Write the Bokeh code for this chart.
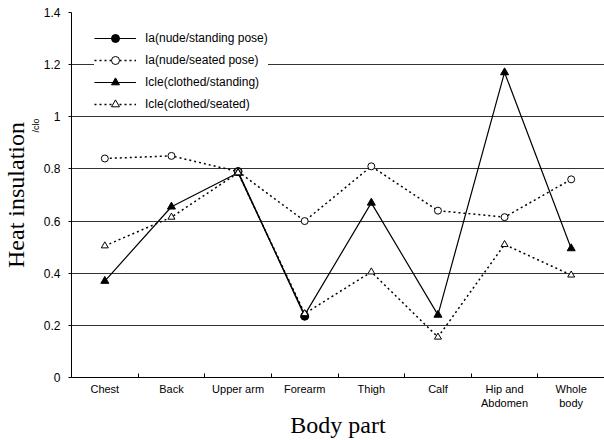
from bokeh.plotting import figure
from bokeh.models import (FixedTicker, Range1d, Legend, LegendItem, Title,
                          CustomJSTickFormatter)
from bokeh.embed import file_html
from bokeh.resources import INLINE

nan = float("nan")

categories = ["Chest", "Back", "Upper arm", "Forearm", "Thigh", "Calf",
              "Hip and\nAbdomen", "Whole\nbody"]
ia_nude_standing = [nan, nan, 0.79, 0.235, nan, nan, nan, nan]
ia_nude_seated = [0.84, 0.85, 0.79, 0.60, 0.81, 0.64, 0.615, 0.76]
icle_clothed_standing = [0.37, 0.655, 0.785, 0.24, 0.67, 0.24, 1.17, 0.495]
icle_clothed_seated = [0.505, 0.615, 0.785, 0.245, 0.405, 0.155, 0.51, 0.393]
y_ticks = [0, 0.2, 0.4, 0.6, 0.8, 1.0, 1.2, 1.4]

x_centers = [i + 0.5 for i in range(len(categories))]
x_bounds = list(range(1, len(categories)))

p = figure(width=604, height=440, output_backend="svg", toolbar_location=None,
           x_range=Range1d(0, 8), y_range=Range1d(0, 1.4),
           min_border_left=71, min_border_right=0, min_border_top=12,
           min_border_bottom=63)
p.outline_line_color = None
p.background_fill_color = "white"
p.border_fill_color = "white"

# x axis
p.xaxis.ticker = FixedTicker(ticks=x_centers, minor_ticks=x_bounds)
p.xaxis.formatter = CustomJSTickFormatter(args=dict(labels=categories),
                                          code="return labels[Math.round(tick - 0.5)];")
p.xaxis.major_tick_in = 0
p.xaxis.major_tick_out = 0
p.xaxis.minor_tick_in = 4
p.xaxis.minor_tick_out = 0
p.xaxis.minor_tick_line_color = "black"
p.xaxis.axis_line_color = "black"
p.xaxis.major_label_text_font = "Liberation Sans"
p.xaxis.major_label_text_font_size = "11px"
p.xaxis.major_label_text_color = "black"
p.xaxis.major_label_standoff = 5
p.xaxis.axis_label = "Body part"
p.xaxis.axis_label_text_font = "Liberation Serif"
p.xaxis.axis_label_text_font_style = "normal"
p.xaxis.axis_label_text_font_size = "24px"
p.xaxis.axis_label_text_color = "black"
p.xaxis.axis_label_standoff = 0

# y axis
p.yaxis.ticker = FixedTicker(ticks=y_ticks)
p.yaxis.formatter = CustomJSTickFormatter(code="return tick.toFixed(1).replace(/\\.0$/, '');")
p.yaxis.major_tick_in = 0
p.yaxis.major_tick_out = 3
p.yaxis.minor_tick_line_color = None
p.yaxis.axis_line_color = "black"
p.yaxis.major_label_text_font = "Liberation Sans"
p.yaxis.major_label_text_font_size = "12px"
p.yaxis.major_label_text_color = "black"
p.yaxis.major_label_standoff = 8

unit_title = Title(text="/clo", align="right", offset=106,
                   text_font="Liberation Sans", text_font_size="9px",
                   text_font_style="normal", text_color="black", standoff=0)
p.add_layout(unit_title, "left")
y_title = Title(text="Heat insulation", align="center",
                text_font="Liberation Serif", text_font_size="24px",
                text_font_style="normal", text_color="black", standoff=0)
p.add_layout(y_title, "left")

p.xgrid.grid_line_color = None
p.ygrid.grid_line_color = "#333333"
p.ygrid.grid_line_width = 1

# series
l1 = p.line(x_centers, ia_nude_standing, line_color="black", line_width=1.2)
m1 = p.scatter(x_centers, ia_nude_standing, marker="circle", size=8,
               fill_color="black", line_color="black")
l2 = p.line(x_centers, ia_nude_seated, line_color="black", line_width=1.5,
            line_dash="2 3")
m2 = p.scatter(x_centers, ia_nude_seated, marker="circle", size=7,
               fill_color="white", line_color="black", line_width=1)
l3 = p.line(x_centers, icle_clothed_standing, line_color="black", line_width=1.2)
m3 = p.scatter(x_centers, icle_clothed_standing, marker="triangle", size=8,
               fill_color="black", line_color="black")
l4 = p.line(x_centers, icle_clothed_seated, line_color="black", line_width=1.5,
            line_dash="2 3")
m4 = p.scatter(x_centers, icle_clothed_seated, marker="triangle", size=7,
               fill_color="white", line_color="black", line_width=1)

legend = Legend(items=[
    LegendItem(label="Ia(nude/standing pose)", renderers=[l1, m1]),
    LegendItem(label="Ia(nude/seated pose)", renderers=[l2, m2]),
    LegendItem(label="Icle(clothed/standing)", renderers=[l3, m3]),
    LegendItem(label="Icle(clothed/seated)", renderers=[l4, m4]),
], location=(23, 263))
legend.border_line_color = None
legend.background_fill_color = "white"
legend.background_fill_alpha = 1
legend.padding = 6
legend.margin = 0
legend.spacing = 2
legend.label_height = 20
legend.glyph_height = 20
legend.glyph_width = 42
legend.label_standoff = 9
legend.label_text_font = "Liberation Sans"
legend.label_text_font_size = "12px"
legend.label_text_color = "black"
p.add_layout(legend)

open("out.html", "w").write(file_html(p, INLINE))
